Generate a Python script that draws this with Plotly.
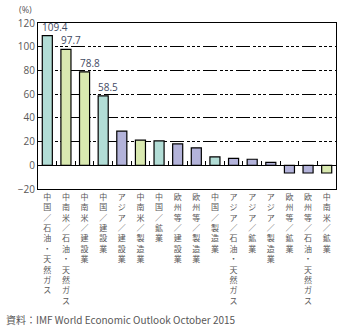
import plotly.graph_objects as go

categories = [
    "中国／石油・天然ガス", "中南米／石油・天然ガス", "中南米／建設業", "中国／建設業",
    "アジア／建設業", "中南米／製造業", "中国／鉱業", "欧州等／建設業",
    "欧州等／製造業", "中国／製造業", "アジア／石油・天然ガス", "アジア／鉱業",
    "アジア／製造業", "欧州等／鉱業", "欧州等／石油・天然ガス", "中南米／鉱業",
]
values = [109.4, 97.7, 78.8, 58.5, 28.8, 21.2, 20.6, 18.1,
          14.7, 7.1, 5.9, 5.1, 2.5, -6.5, -6.5, -6.5]
regions = ["中国", "中南米", "中南米", "中国", "アジア", "中南米", "中国", "欧州等",
           "欧州等", "中国", "アジア", "アジア", "アジア", "欧州等", "欧州等", "中南米"]
labeled = [True, True, True, True] + [False] * 12
region_colors = {"中国": "#b2ddd6", "中南米": "#d9e9b0", "アジア": "#b3b3da", "欧州等": "#b3b3da"}
y_ticks = [-20, 0, 20, 40, 60, 80, 100, 120]

W, H = 343, 329
ML, MR, MT, MB = 38, 7, 23, 140
PW, PH = W - ML - MR, H - MT - MB
BAR_W = 0.54


def px_to_paper(px, py):
    return (px - ML) / PW, 1 - (py - MT) / PH


x = list(range(len(categories)))
tick_text = ["<br>".join(list(c)) for c in categories]
colors = [region_colors[r] for r in regions]

fig = go.Figure()
fig.add_trace(go.Bar(
    x=x, y=values, marker=dict(color=colors, line=dict(color="black", width=1.2)),
    width=BAR_W, showlegend=False, hoverinfo="x+y",
))
fig.add_trace(go.Scatter(x=[-0.5, len(x) - 0.5], y=[0, 0], xaxis="x2", mode="lines",
                         line=dict(width=0), hoverinfo="skip", showlegend=False))

anns = []
for xi, v, l in zip(x, values, labeled):
    if l:
        anns.append(dict(text=f"{v:.1f}", x=xi - BAR_W / 2, y=v, xref="x", yref="y",
                         xanchor="left", yanchor="bottom", showarrow=False, xshift=-2,
                         font=dict(size=10, color="#3f4a63", family="Open Sans")))

ax1, ay1 = px_to_paper(17, 1)
ax2, ay2 = px_to_paper(4, 310)
anns.append(dict(text="(%)", x=ax1, y=ay1, xref="paper", yref="paper", showarrow=False,
                 xanchor="left", yanchor="top",
                 font=dict(size=9, color="#595757", family="Open Sans")))
anns.append(dict(text="資料：IMF World Economic Outlook October 2015", x=ax2, y=ay2,
                 xref="paper", yref="paper", showarrow=False, xanchor="left", yanchor="top",
                 font=dict(size=10, color="#595757", family="Noto Sans CJK JP")))

fig.update_layout(
    width=W, height=H,
    margin=dict(l=ML, r=MR, t=MT, b=MB),
    plot_bgcolor="white", paper_bgcolor="white",
    font=dict(family="Noto Sans CJK JP", color="#595757"),
    xaxis=dict(
        range=[-0.5, len(x) - 0.5], tickvals=x, ticktext=tick_text,
        tickangle=0, tickfont=dict(size=8, color="#595757", family="Noto Sans CJK JP"),
        showline=True, linecolor="black", linewidth=1.2, mirror=True,
        ticks="", showgrid=False, zeroline=False,
    ),
    xaxis2=dict(
        overlaying="x", anchor="free", position=1 / 7, side="bottom",
        range=[-0.5, len(x) - 0.5], tickvals=[i + 0.5 for i in x[:-1]],
        ticks="inside", ticklen=4, tickcolor="black", tickwidth=1,
        showticklabels=False, showline=True, linecolor="black", linewidth=1.2,
        showgrid=False, zeroline=False,
    ),
    yaxis=dict(
        range=[-20, 120], tickvals=y_ticks, ticks="",
        tickfont=dict(size=10, color="#595757", family="Open Sans"),
        showline=True, linecolor="black", linewidth=1.2, mirror=True,
        showgrid=True, gridcolor="black", gridwidth=1,
        griddash="14px,3px,3px,2px,3px,2px,3px,3px",
        zeroline=False,
    ),
    annotations=anns,
)
fig.write_html("out.html")
